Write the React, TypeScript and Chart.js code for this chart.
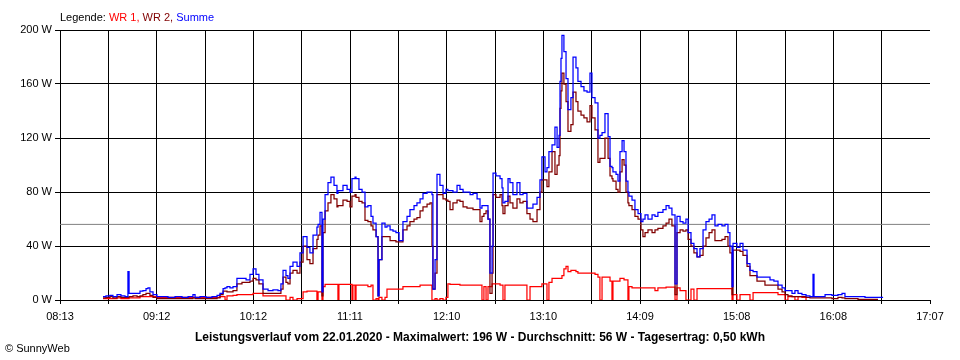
import React, { useEffect, useRef } from 'react';
import { Chart, registerables } from 'chart.js';

Chart.register(...registerables);

// x axis: minutes after 08:13, 18 grid intervals up to 17:07
const TICK_LABELS = ['08:13', '09:12', '10:12', '11:11', '12:10', '13:10', '14:09', '15:08', '16:08', '17:07'];
const X_MAX_MIN = 534;
const GRID_STEPS = 18;
const Y_MAX = 200;
const Y_STEP = 40;
const AVERAGE_W = 56;

const TIME_MIN = [
  26.4, 28.2, 30.7, 32.5, 35.0, 37.4, 39.9, 41.7, 42.4, 44.8,
  47.3, 49.1, 50.9, 52.8, 54.0, 55.2, 57.1, 59.5, 62.6, 66.3,
  70.6, 74.9, 78.6, 81.6, 82.9, 85.9, 89.6, 93.3, 96.4, 98.2,
  100.1, 101.3, 102.5, 104.3, 106.2, 108.6, 111.7, 114.2, 116.6, 118.5,
  120.3, 122.1, 124.6, 127.7, 130.7, 133.8, 135.6, 136.9, 138.7, 139.9,
  141.2, 143.0, 145.5, 147.3, 149.2, 151.6, 153.4, 155.3, 157.7, 158.4,
  159.6, 160.8, 161.4, 162.7, 164.5, 166.3, 168.2, 170.0, 170.6, 171.2,
  173.7, 176.2, 178.0, 179.2, 179.8, 181.1, 181.7, 183.5, 185.4, 187.2,
  189.0, 190.9, 192.1, 194.0, 195.2, 195.8, 197.6, 199.5, 200.7, 202.6,
  204.4, 206.2, 208.1, 210.5, 213.0, 214.8, 217.3, 219.1, 221.0, 222.8,
  225.3, 227.1, 228.3, 228.9, 230.2, 231.4, 233.2, 235.1, 236.9, 238.1,
  239.4, 241.2, 243.7, 245.5, 247.4, 249.8, 251.7, 253.5, 256.0, 257.8,
  259.0, 260.2, 261.5, 262.7, 263.9, 265.2, 265.8, 267.6, 270.1, 271.3,
  271.9, 273.1, 275.0, 276.2, 278.0, 280.5, 282.3, 284.2, 286.6, 288.5,
  290.3, 292.8, 294.6, 295.8, 297.7, 298.9, 300.1, 302.0, 303.8, 305.1,
  306.3, 306.9, 307.5, 308.1, 309.3, 310.6, 311.8, 313.6, 314.9, 316.7,
  317.9, 319.8, 321.6, 323.5, 325.3, 326.5, 328.4, 330.2, 331.4, 332.7,
  334.5, 336.4, 337.6, 338.8, 339.4, 341.3, 342.5, 343.7, 345.0, 346.2,
  347.4, 348.6, 349.2, 351.1, 352.9, 354.8, 356.6, 357.8, 359.1, 360.9,
  363.4, 365.2, 367.0, 370.1, 372.0, 373.8, 375.6, 377.5, 378.7, 380.6,
  382.4, 384.2, 385.5, 387.3, 389.1, 391.0, 392.8, 394.7, 396.5, 398.4,
  400.2, 402.0, 403.9, 406.3, 408.2, 410.0, 411.2, 412.5, 413.1, 415.5,
  417.4, 419.2, 421.7, 423.5, 425.4, 427.8, 429.7, 432.7, 435.8, 438.2,
  440.7, 443.2, 445.0, 446.8, 449.3, 451.1, 453.0, 455.4, 457.9, 460.3,
  462.2, 462.8, 466.5, 469.6, 473.8, 477.5, 480.0, 481.8, 486.1, 489.8,
  494.1, 498.4, 502.1, 505.2,
];

const SUMME_W = [
  2.5, 3, 3.5, 2.5, 4, 3, 2.5, 21, 5, 5,
  5, 6.5, 7, 8.5, 9, 6, 4, 2.5, 2.5, 2,
  2.5, 2, 2.5, 4, 2, 2.5, 2, 2.5, 3.5, 5,
  8.5, 9, 10, 9, 10, 16, 16, 15, 19, 23,
  19, 15, 8, 7, 7.5, 7, 12, 22, 18, 16,
  25, 28, 25, 35, 47, 39, 35, 48, 54, 56,
  65, 6, 60, 78, 87, 91, 85, 79, 81, 81,
  85, 82, 80, 90, 90, 91, 90, 82, 80, 69,
  70, 62, 57, 47, 3, 30, 57, 54, 55, 52,
  51, 50, 44, 58, 62, 67, 70, 72, 75, 79,
  80, 80, 78, 8, 30, 93, 85, 79, 82, 81,
  81, 80, 85, 82, 80, 80, 78, 79, 75, 68,
  70, 70, 70, 60, 20, 40, 94, 92, 90, 83,
  72, 73, 90, 87, 78, 87, 78, 79, 68, 68,
  71, 76, 89, 106, 95, 98, 110, 115, 128, 113,
  122, 162, 179, 196, 184, 164, 141, 150, 180, 172,
  162, 158, 155, 154, 168, 150, 146, 120, 122, 124,
  138, 121, 99, 98, 95, 93, 88, 110, 118, 110,
  88, 80, 77, 74, 67, 64, 58, 60, 63, 60,
  63, 62, 65, 67, 70, 68, 63, 12, 62, 58,
  57, 60, 50, 42, 38, 32, 38, 52, 58, 60,
  63, 55, 56, 55, 56, 50, 40, 10, 42, 39,
  42, 37, 27, 22, 21, 17, 17, 17, 15, 14,
  11, 9, 7, 7, 5, 7, 5, 4, 3, 2.5,
  19, 2.5, 2.5, 4, 3.5, 4, 5, 2.5, 2.5, 2.5,
  2, 2, 2, 2,
];

const WR2_W = [
  1.5, 2, 2.5, 1.5, 2.5, 2, 2, 2, 2.5, 3,
  2.5, 3, 4, 5, 5, 3.5, 2, 1, 1, 1,
  1, 1, 1, 1.5, 1, 1, 1, 1, 1.5, 4,
  6.5, 6.5, 6, 6, 7, 12, 13, 13, 14, 16,
  15, 12, 5, 5, 5, 5, 8, 17, 13, 12,
  20, 22, 20, 28, 40, 30, 27, 38, 45, 48,
  55, 3, 50, 66, 72, 78, 75, 69, 70, 70,
  74, 73, 69, 77, 77, 78, 76, 73, 72, 59,
  58, 55, 52, 47, 3, 30, 47, 47, 47, 44,
  44, 43, 43, 52, 55, 58, 60, 61, 66, 69,
  71, 72, 40, 8, 20, 78, 78, 75, 74, 73,
  67, 72, 74, 73, 69, 68, 68, 67, 67, 58,
  62, 64, 66, 60, 5, 20, 78, 76, 78, 70,
  64, 70, 77, 72, 68, 75, 72, 73, 64, 60,
  58, 67, 80, 89, 89, 84, 95, 110, 93, 100,
  107, 142, 155, 168, 160, 147, 125, 130, 154, 147,
  140, 137, 135, 132, 144, 135, 126, 102, 105, 105,
  120, 105, 92, 90, 88, 82, 80, 95, 104, 100,
  80, 72, 70, 67, 62, 60, 52, 47, 50, 52,
  50, 52, 53, 55, 57, 60, 55, 4, 50, 52,
  51, 52, 45, 40, 35, 32, 33, 40, 46, 50,
  52, 44, 44, 45, 47, 40, 35, 4, 37, 37,
  36, 33, 25, 18, 18, 14, 14, 11, 11, 11,
  8, 6, 4, 3, 2.5, 2.5, 2.5, 2.5, 2, 1.5,
  1.5, 1.5, 1.5, 1.5, 1, 2, 1.5, 1, 1, 0.5,
  0.5, 0.5, 0.5,
];

const WR1_W = [
  1, 1, 1, 1, 1.5, 1, 1, 1, 1.5, 1.5,
  1.5, 2.5, 2.5, 2.5, 2.5, 2.5, 2.5, 2, 2, 2,
  2, 2, 2, 2, 2, 2, 2, 2, 2, 2.5,
  2.5, 0, 3, 3, 3.5, 4, 4, 4, 4, 5,
  5, 5, 3, 3, 3, 3, 3, 3, 0, 0,
  2, 0, 1, 1, 6, 6.5, 6.5, 6.5, 0, 6,
  6, 0, 10, 11.5, 11.5, 11.5, 11.5, 11.5, 0, 11.5,
  11.5, 11.5, 11.5, 0, 11, 0, 11, 11, 11, 11,
  10, 11, 0, 1, 0, 2, 0, 2, 8, 8,
  8, 8, 8, 10, 10, 10, 10, 10, 11, 11,
  11, 11, 0, 0, 1, 0, 1, 0, 2, 12,
  11.5, 11.5, 11.5, 11, 11, 11, 11, 11, 11, 11,
  0, 10, 0, 10, 10, 12, 12, 12, 11, 11,
  0, 11, 11, 11, 11, 11, 11, 11, 0, 10,
  10, 10, 10, 12, 12, 0, 13, 16, 16, 16,
  16, 16, 16, 18, 23, 25, 21, 22, 22, 21,
  20, 20, 20, 20, 20, 20, 19, 17, 0, 17,
  17, 17, 14, 0, 14, 14, 14, 16, 16, 15,
  15, 0, 10, 9, 9, 9, 9, 9, 9, 9,
  9, 7, 9, 9, 9.5, 9.5, 9.5, 0, 9, 7,
  7, 0, 0, 8, 0, 8.5, 8.5, 8.5, 8.5, 8.5,
  8.5, 8.5, 8.5, 8.5, 8.5, 8.5, 8.5, 0, 4, 0,
  4, 4, 4, 0, 5.5, 5.5, 5.5, 5.5, 5.5, 5.5,
  4, 4, 0, 2.5, 2.5, 0, 2.5, 2, 0,
];

const FONT = "'Liberation Sans', Arial, sans-serif";

const toPoints = (vals: (number | null)[]) =>
  TIME_MIN.map((t, i) => ({ x: t, y: i < vals.length ? vals[i] : null }));

export default function App() {
  const ref = useRef<HTMLCanvasElement>(null);

  useEffect(() => {
    document.body.style.margin = '0';
    if (!ref.current) return;
    const line = (label: string, vals: (number | null)[], color: string, order: number) => ({
      label,
      data: toPoints(vals),
      borderColor: color,
      backgroundColor: color,
      borderWidth: 1.25,
      stepped: 'before' as const,
      pointRadius: 0,
      spanGaps: false,
      order,
    });
    const chart = new Chart(ref.current, {
      type: 'line',
      data: {
        datasets: [
          line('Summe', SUMME_W, '#0000ff', 1),
          line('WR 2', WR2_W, '#800000', 2),
          line('WR 1', WR1_W, '#ff0000', 3),
          {
            label: 'Durchschnitt',
            data: [{ x: 0, y: AVERAGE_W }, { x: X_MAX_MIN, y: AVERAGE_W }],
            borderColor: '#808080',
            borderWidth: 1,
            pointRadius: 0,
            order: 4,
          },
        ],
      },
      options: {
        responsive: false,
        animation: false,
        layout: { padding: { top: 30, right: 30, left: 0, bottom: 0 } },
        plugins: { legend: { display: false }, tooltip: { enabled: false }, title: { display: false } },
        scales: {
          x: {
            type: 'linear',
            min: 0,
            max: X_MAX_MIN,
            afterBuildTicks: (axis: any) => {
              axis.ticks = Array.from({ length: GRID_STEPS + 1 }, (_, k) => ({ value: (k * X_MAX_MIN) / GRID_STEPS }));
            },
            afterFit: (s: any) => {
              s.height = 60;
            },
            ticks: {
              autoSkip: false,
              maxRotation: 0,
              minRotation: 0,
              padding: 6,
              color: '#000',
              font: { family: FONT, size: 11 },
              callback: (_v: any, i: number) => (i % 2 === 0 ? TICK_LABELS[i / 2] : ''),
            },
            grid: {
              color: (c: any) => (c.index === GRID_STEPS ? 'rgba(0,0,0,0)' : '#000'),
              tickColor: '#000',
              tickLength: 4,
              lineWidth: 1,
            },
            border: { color: '#000', width: 1 },
          },
          y: {
            min: 0,
            max: Y_MAX,
            afterFit: (s: any) => {
              s.width = 60;
            },
            ticks: {
              stepSize: Y_STEP,
              padding: 3,
              color: '#000',
              font: { family: FONT, size: 11 },
              callback: (v: any) => `${v} W`,
            },
            grid: { color: '#000', tickLength: 5, lineWidth: 1 },
            border: { color: '#000', width: 1 },
          },
        },
      },
    } as any);
    return () => chart.destroy();
  }, []);

  return (
    <div style={{ position: 'relative', width: 960, height: 360, background: '#fff', fontFamily: FONT }}>
      <canvas ref={ref} width={960} height={360} style={{ display: 'block' }} />
      <div style={{ position: 'absolute', left: 60, top: 10, fontSize: 11, lineHeight: '14px', whiteSpace: 'nowrap', color: '#000' }}>
        Legende: <span style={{ color: '#ff0000' }}>WR 1,</span> <span style={{ color: '#800000' }}>WR 2,</span>{' '}
        <span style={{ color: '#0000ff' }}>Summe</span>
      </div>
      <div style={{ position: 'absolute', left: 0, width: 960, top: 330, textAlign: 'center', fontSize: 12, fontWeight: 'bold', lineHeight: '14px', whiteSpace: 'nowrap', color: '#000' }}>
        Leistungsverlauf vom 22.01.2020 - Maximalwert: 196 W - Durchschnitt: 56 W - Tagesertrag: 0,50 kWh
      </div>
      <div style={{ position: 'absolute', left: 5, top: 341, fontSize: 11, lineHeight: '14px', whiteSpace: 'nowrap', color: '#000' }}>
        © SunnyWeb
      </div>
    </div>
  );
}
